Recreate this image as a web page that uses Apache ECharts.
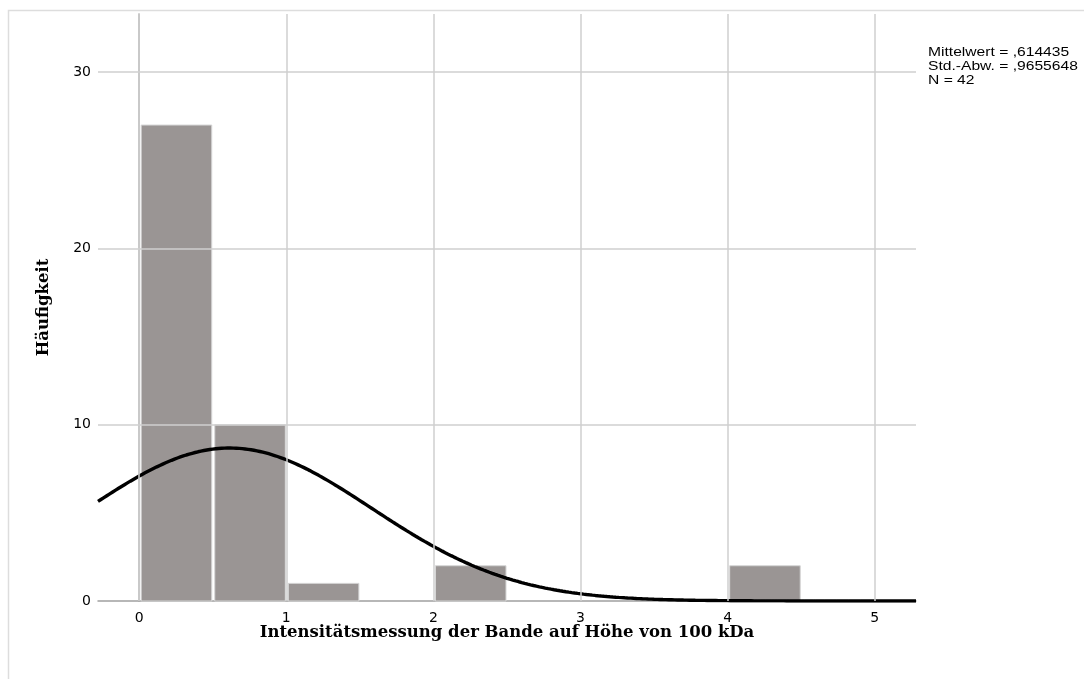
<!DOCTYPE html>
<html>
<head>
<meta charset="utf-8">
<style>
  html, body { margin: 0; padding: 0; background: #ffffff; }
  #chart { width: 1084px; height: 679px; }
</style>
<script src="https://cdn.jsdelivr.net/npm/echarts@6/dist/echarts.min.js"></script>
</head>
<body>
<div id="chart"></div>
<script>
// Histogram bins (lower edge, upper edge) and counts
const binStarts = [0, 0.5, 1.0, 2.0, 4.0];
const binEnds   = [0.5, 1.0, 1.5, 2.5, 4.5];
const counts    = [27, 10, 1, 2, 2];

// Axis ticks
const xTicks = [0, 1, 2, 3, 4, 5];
const yTicks = [0, 10, 20, 30];

// Summary statistics shown beside the plot
const meanValue = 0.614435;
const stdDev = 0.9655648;
const sampleSize = 42;
const binWidth = 0.5;
const statLines = ['Mittelwert = ,614435', 'Std.-Abw. = ,9655648', 'N = 42'];

// Normal curve scaled to the histogram (count per bin)
const curveX = [];
for (let x = -0.28; x <= 5.2801; x += 0.02) curveX.push(+x.toFixed(2));
const curve = curveX.map(x => {
  const z = (x - meanValue) / stdDev;
  return [x, sampleSize * binWidth * Math.exp(-0.5 * z * z) / (stdDev * Math.sqrt(2 * Math.PI))];
});

const bars = binStarts.map((s, i) => [s, binEnds[i], counts[i]]);

const chart = echarts.init(document.getElementById('chart'), null, { renderer: 'canvas' });

const gridColor = '#cfcfcf';
const titleFont = { fontFamily: 'DejaVu Serif', fontWeight: 'bold', fontSize: 16.5, color: '#000' };

chart.setOption({
  animation: false,
  backgroundColor: '#ffffff',
  grid: { left: 98, right: 168, top: 14, bottom: 78, containLabel: false },
  xAxis: {
    type: 'value',
    min: -0.28,
    max: 5.28,
    axisLine: { show: true, onZero: false, lineStyle: { color: '#a0a0a0', width: 1.5 } },
    axisTick: { show: false },
    splitLine: { show: false },
    axisLabel: {
      customValues: xTicks,
      margin: 10,
      color: '#000',
      fontSize: 14,
      fontFamily: 'DejaVu Sans',
      formatter: v => String(v)
    },
    name: 'Intensitätsmessung der Bande auf Höhe von 100 kDa',
    nameLocation: 'middle',
    nameGap: 23,
    nameMoveOverlap: false,
    nameTextStyle: titleFont
  },
  yAxis: {
    type: 'value',
    min: 0,
    max: 33.3,
    axisLine: { show: true, lineStyle: { color: '#a0a0a0', width: 1.5 } },
    axisTick: { show: false },
    splitLine: { show: false },
    axisLabel: {
      customValues: yTicks,
      margin: 7,
      color: '#000',
      fontSize: 14,
      fontFamily: 'DejaVu Sans',
      formatter: v => String(v)
    },
    name: 'Häufigkeit',
    nameLocation: 'middle',
    nameGap: 46,
    nameTextStyle: titleFont
  },
  graphic: [
    {
      type: 'rect',
      shape: { x: 8.5, y: 10.5, width: 1100, height: 700 },
      style: { fill: 'none', stroke: '#dddddd', lineWidth: 1.5 },
      silent: true, z: -10
    },
    {
      type: 'text',
      x: 928, y: 46,
      scaleX: 1.25,
      style: {
        text: statLines.join('\n'),
        font: '12.5px "Liberation Sans"',
        fill: '#000',
        lineHeight: 14
      },
      silent: true
    }
  ],
  series: [
    {
      // grid lines at tick positions
      type: 'line',
      data: [],
      silent: true,
      z: 1,
      markLine: {
        silent: true,
        symbol: 'none',
        label: { show: false },
        lineStyle: { color: gridColor, width: 1.5, type: 'solid' },
        data: xTicks.map(v => ({ xAxis: v })).concat(yTicks.filter(v => v > 0).map(v => ({ yAxis: v })))
      }
    },
    {
      type: 'custom',
      z: 2,
      data: bars,
      renderItem: function (params, api) {
        const p0 = api.coord([api.value(0), api.value(2)]);
        const p1 = api.coord([api.value(1), 0]);
        return {
          type: 'rect',
          shape: { x: p0[0] + 2, y: p0[1], width: p1[0] - p0[0] - 3, height: p1[1] - p0[1] },
          style: { fill: '#9a9594', stroke: '#d6d6d6', lineWidth: 1 }
        };
      }
    },
    {
      type: 'line',
      z: 3,
      data: curve,
      symbol: 'none',
      smooth: false,
      clip: true,
      lineStyle: { color: '#000', width: 3.4 }
    }
  ]
});
</script>
</body>
</html>
